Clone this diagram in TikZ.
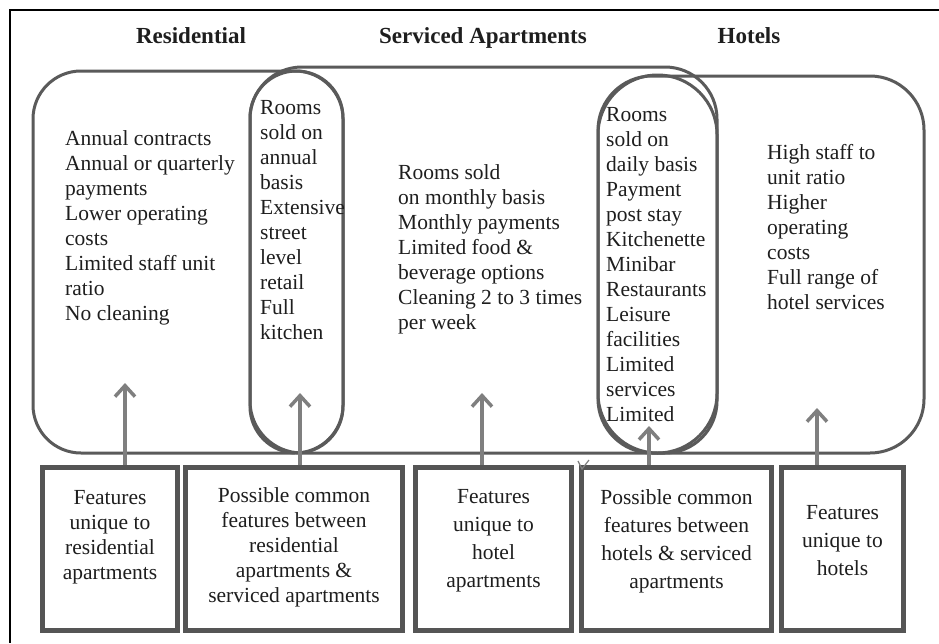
\documentclass[tikz,border=0pt]{standalone}
\usepackage{fontspec}
\setmainfont{Liberation Serif}
\usetikzlibrary{arrows.meta}
\definecolor{shapegray}{HTML}{5A5A5A}
\definecolor{boxgray}{HTML}{555555}
\definecolor{arrowgray}{HTML}{7F7F7F}
\definecolor{inkdark}{HTML}{1E1E1E}
\tikzset{
  setline/.style={draw=shapegray, line width=3pt},
  title/.style={font=\fontsize{23}{26}\selectfont\bfseries, text=inkdark, anchor=base, inner sep=0pt},
  listtext/.style={font=\fontsize{21.5}{25}\selectfont, text=inkdark, align=left, anchor=north west, inner sep=0pt},
  boxtext/.style={font=\fontsize{21.5}{25}\selectfont, text=inkdark, align=center, inner sep=0pt},
  boxtextwide/.style={boxtext, font=\fontsize{21.5}{28}\selectfont},
  featbox/.style={draw=boxgray, line width=5pt, rectangle, inner sep=0pt, minimum height=163pt},
  uparrow/.style={draw=arrowgray, line width=3.5pt, -{Straight Barb[length=11pt,width=20pt,line width=3.5pt]}},
}
\begin{document}
\begin{tikzpicture}[x=1pt, y=-1pt]
\useasboundingbox (0,0) rectangle (939,643);
\fill[white] (0,0) rectangle (939,643);

% outer frame (only its top and left edges fall on the page)
\draw[black, line width=1.8pt] (939,10) -- (10,10) -- (10,643);

% column headings
\node[title] (hres) at (191,43) {Residential};
\node[title] (hsrv) at (483,43) {Serviced Apartments};
\node[title] (hhot) at (749,43) {Hotels};

% the three sets
\draw[setline, rounded corners=48pt] (33,71) rectangle (343,453);
\draw[setline, rounded corners=52pt] (250,67) rectangle (717,453);
\draw[setline, rounded corners=54pt] (598,76) rectangle (924,453);

% the two overlap zones, drawn as stadiums with half-circle ends
\draw[setline] (250,117.5) arc[start angle=180, end angle=360, radius=46.5]
  -- (343,406.5) arc[start angle=0, end angle=180, radius=46.5] -- cycle;
\draw[setline] (598,134.5) arc[start angle=180, end angle=360, radius=59.5]
  -- (717,393.5) arc[start angle=0, end angle=180, radius=59.5] -- cycle;

% feature lists
\node[listtext] (lres) at (65,130) {Annual contracts\\Annual or quarterly\\payments\\Lower operating\\costs\\Limited staff unit\\ratio\\No cleaning};
\node[listtext] (lrs) at (260,100) {Rooms\\sold on\\annual\\basis\\Extensive\\street\\level\\retail\\Full\\kitchen};
\node[listtext] (lsrv) at (398,164) {Rooms sold\\on monthly basis\\Monthly payments\\Limited food \&\\beverage options\\Cleaning 2 to 3 times\\per week};
\node[listtext] (lhs) at (606,107) {Rooms\\sold on\\daily basis\\Payment\\post stay\\Kitchenette\\Minibar\\Restaurants\\Leisure\\facilities\\Limited\\services\\Limited};
\node[listtext] (lhot) at (767,144) {High staff to\\unit ratio\\Higher\\operating\\costs\\Full range of\\hotel services};

% legend boxes
\node[featbox, minimum width=135pt] (b1) at (110,549) {};
\node[featbox, minimum width=217pt] (b2) at (294,549) {};
\node[featbox, minimum width=156pt] (b3) at (493.5,549) {};
\node[featbox, minimum width=190pt] (b4) at (676.5,549) {};
\node[featbox, minimum width=122pt] (b5) at (842.5,549) {};

\node[boxtext] (t1) at (110,537) {Features\\unique to\\residential\\apartments};
\node[boxtext] (t2) at (294,547) {Possible common\\features between\\residential\\apartments \&\\serviced apartments};
\node[boxtextwide] (t3) at (493.5,541) {Features\\unique to\\hotel\\apartments};
\node[boxtextwide] (t4) at (676.5,541) {Possible common\\features between\\hotels \& serviced\\apartments};
\node[boxtextwide] (t5) at (842.5,541) {Features\\unique to\\hotels};

% small stray mark by the fourth box
\draw[arrowgray, line width=1.2pt] (578,461) -- (582,469) -- (589,460);

% arrow tips inside the sets
\coordinate (p1) at (125,383);
\coordinate (p2) at (300,393);
\coordinate (p3) at (482,393);
\coordinate (p4) at (649,426);
\coordinate (p5) at (817,408);

\draw[uparrow] (b1.north -| p1) -- (p1);
\draw[uparrow] (b2.north -| p2) -- (p2);
\draw[uparrow] (b3.north -| p3) -- (p3);
\draw[uparrow] (b4.north -| p4) -- (p4);
\draw[uparrow] (b5.north -| p5) -- (p5);
\end{tikzpicture}
\end{document}
